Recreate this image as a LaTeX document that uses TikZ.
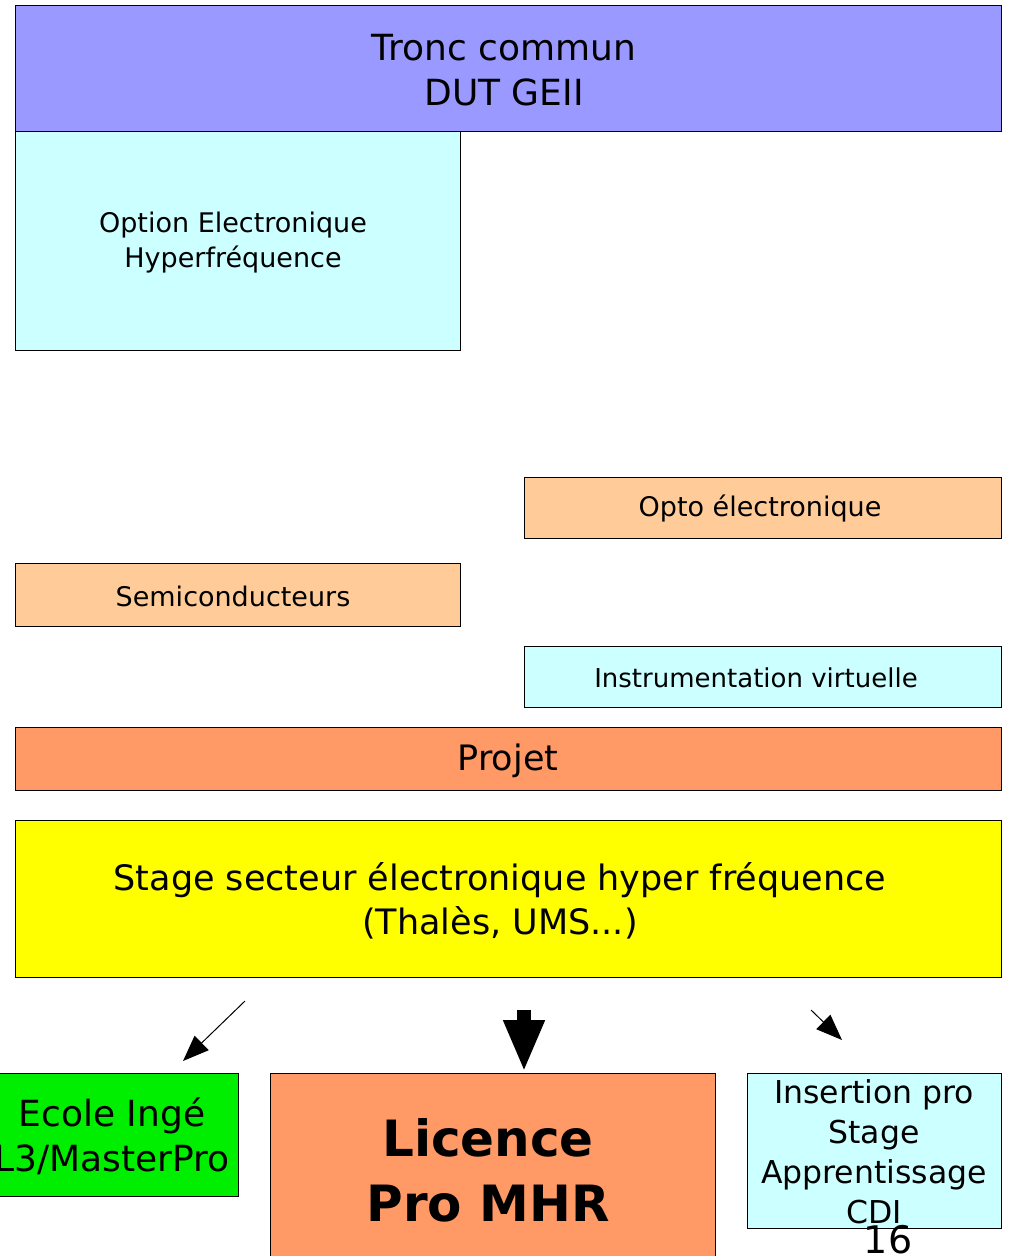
\documentclass[tikz,border=0pt]{standalone}
\usepackage{fontspec}
\setmainfont{DejaVu Sans}
\usetikzlibrary{arrows.meta}
\definecolor{tronc}{HTML}{9999FF}
\definecolor{cyanlight}{HTML}{CCFFFF}
\definecolor{peach}{HTML}{FFCC99}
\definecolor{salmon}{HTML}{FF9966}
\definecolor{yel}{HTML}{FFFF00}
\definecolor{grn}{HTML}{00EE00}
\begin{document}
\begin{tikzpicture}[x=1pt,y=-1pt,
  box/.style={draw=black, line width=1pt, inner sep=0pt},
  lbl/.style={align=center, inner sep=0pt},
  thinarrow/.style={line width=1pt, -{Triangle[length=26pt,width=20pt]}},
  bigarrow/.style={line width=14pt, -{Triangle[length=52pt,width=38pt]}}]
\clip (0,0) rectangle (1011,1256);
\fill[white] (0,0) rectangle (1011,1256);

\node[box, fill=tronc, minimum width=986pt, minimum height=126pt] (tronc) at (508,68) {};
\node[lbl, font=\fontsize{36}{45}\selectfont] (tronctxt) at (504,70) {Tronc commun\\DUT GEII};
\node[box, fill=cyanlight, minimum width=445pt, minimum height=219pt] (option) at (237.5,240.5) {};
\node[lbl, font=\fontsize{27}{35}\selectfont] (optiontxt) at (233,243) {Option Electronique\\Hyperfréquence};
\node[box, fill=peach, minimum width=477pt, minimum height=61pt] (opto) at (762.5,507.5) {};
\node[lbl, font=\fontsize{27}{35}\selectfont] (optotxt) at (760,509) {Opto électronique};
\node[box, fill=peach, minimum width=445pt, minimum height=63pt] (semi) at (237.5,594.5) {};
\node[lbl, font=\fontsize{27}{35}\selectfont] (semitxt) at (233,596) {Semiconducteurs};
\node[box, fill=cyanlight, minimum width=477pt, minimum height=61pt] (instru) at (762.5,676.5) {};
\node[lbl, font=\fontsize{26}{35}\selectfont] (instrutxt) at (756,678) {Instrumentation virtuelle};
\node[box, fill=salmon, minimum width=986pt, minimum height=63pt] (projet) at (508,758.5) {};
\node[lbl, font=\fontsize{35}{44}\selectfont] (projettxt) at (508,761) {Projet};
\node[box, fill=yel, minimum width=986pt, minimum height=157pt] (stage) at (508,898.5) {};
\node[lbl, font=\fontsize{35}{44}\selectfont] (stagetxt) at (500,901) {Stage secteur électronique hyper fréquence\\(Thalès, UMS...)};

\node[box, fill=grn, minimum width=240pt, minimum height=123pt] (ecole) at (118,1134.5) {};
\node[lbl, font=\fontsize{36}{45}\selectfont] (ecoletxt) at (112,1136) {Ecole Ingé\\L3/MasterPro};
\node[box, fill=salmon, minimum width=445pt, minimum height=190pt] (licence) at (492.5,1168) {};
\node[lbl, font=\bfseries\fontsize{50}{65}\selectfont] (licencetxt) at (488,1170) {Licence\\Pro MHR};
\node[box, fill=cyanlight, minimum width=254pt, minimum height=155pt] (insertion) at (874,1150.5) {};
\node[lbl, font=\fontsize{31.5}{40}\selectfont] (insertiontxt) at (874,1152) {Insertion pro\\Stage\\Apprentissage\\CDI};
\node[lbl, font=\fontsize{38}{44}\selectfont] (pagenum) at (888,1240) {16};

\coordinate (la) at (245,1001);
\coordinate (lb) at (183,1061);
\coordinate (ma) at (524,1010);
\coordinate (mb) at (524,1072);
\coordinate (ra) at (811,1010);
\coordinate (rb) at (842,1040);
\draw[thinarrow] (la) -- (lb);
\draw[bigarrow] (ma) -- (mb);
\draw[thinarrow] (ra) -- (rb);
\end{tikzpicture}
\end{document}
